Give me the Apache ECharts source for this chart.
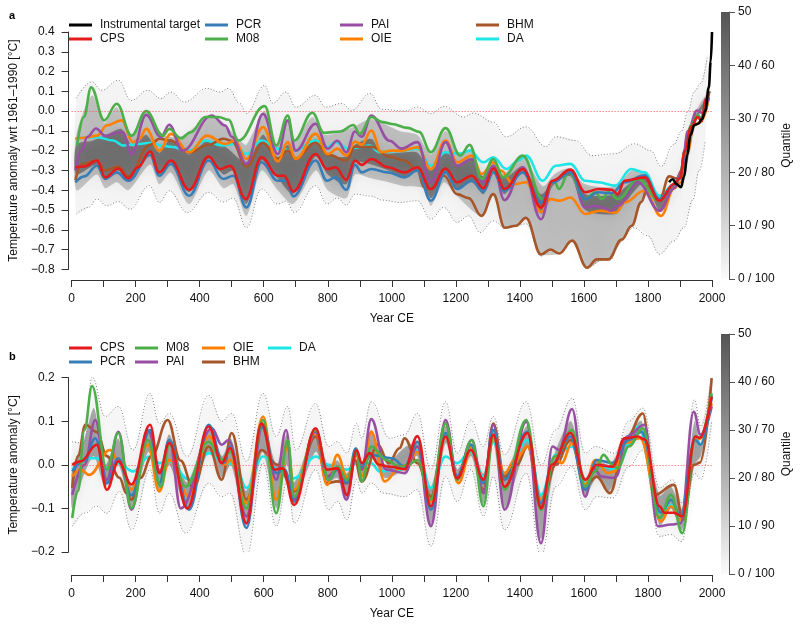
<!DOCTYPE html>
<html>
<head>
<meta charset="utf-8">
<script src="https://cdn.jsdelivr.net/npm/echarts@6/dist/echarts.min.js"></script>
<style>html,body{margin:0;padding:0;background:#fff}#c{width:800px;height:626px}</style>
</head>
<body>
<div id="c"></div>
<script>
// ---------------- Panel a data ([year, anomaly °C]) ----------------
var A_INST = [[1866,-0.36],[1877,-0.345],[1890,-0.37],[1903,-0.385],[1913,-0.33],[1923,-0.22],[1933,-0.12],[1945,-0.07],[1957,-0.064],[1969,-0.04],[1979,0.0],[1990,0.12],[1996,0.25],[2000,0.40]];
var A_CPS = [[12,-0.284],[40,-0.28],[79,-0.25],[105,-0.335],[146,-0.29],[177,-0.34],[207,-0.284],[245,-0.205],[274,-0.31],[310,-0.25],[367,-0.398],[428,-0.23],[464,-0.293],[495,-0.276],[544,-0.445],[593,-0.234],[644,-0.327],[664,-0.327],[692,-0.406],[762,-0.217],[798,-0.293],[824,-0.284],[858,-0.347],[885,-0.25],[906,-0.272],[936,-0.242],[988,-0.284],[1040,-0.31],[1080,-0.284],[1122,-0.394],[1168,-0.29],[1204,-0.36],[1250,-0.327],[1286,-0.39],[1317,-0.29],[1352,-0.394],[1409,-0.293],[1466,-0.487],[1502,-0.352],[1558,-0.296],[1604,-0.41],[1645,-0.394],[1687,-0.398],[1705,-0.42],[1727,-0.352],[1789,-0.335],[1836,-0.453],[1882,-0.369],[1900,-0.34],[1915,-0.2],[1935,-0.08],[1955,-0.03],[1968,-0.05],[1980,0.06],[1992,0.1]];
var A_PCR = [[12,-0.36],[40,-0.33],[79,-0.276],[105,-0.343],[141,-0.31],[177,-0.352],[245,-0.222],[274,-0.327],[310,-0.267],[367,-0.428],[428,-0.25],[474,-0.343],[505,-0.327],[546,-0.487],[593,-0.259],[644,-0.352],[670,-0.352],[692,-0.431],[762,-0.25],[798,-0.352],[824,-0.335],[858,-0.398],[885,-0.272],[906,-0.31],[936,-0.293],[988,-0.31],[1040,-0.335],[1080,-0.3],[1122,-0.453],[1168,-0.31],[1204,-0.394],[1250,-0.352],[1286,-0.408],[1317,-0.31],[1352,-0.403],[1409,-0.31],[1466,-0.462],[1502,-0.36],[1558,-0.31],[1604,-0.445],[1645,-0.41],[1687,-0.415],[1727,-0.36],[1789,-0.325],[1836,-0.445],[1882,-0.37],[1900,-0.34],[1915,-0.21],[1935,-0.08],[1955,-0.03],[1968,-0.045],[1980,0.06],[1992,0.1]];
var A_M08 = [[17,-0.174],[38,-0.03],[61,0.12],[102,-0.047],[141,0.037],[187,-0.124],[233,0.0],[285,-0.124],[305,-0.09],[341,-0.137],[372,-0.107],[418,-0.03],[459,-0.03],[490,-0.044],[521,-0.149],[603,0.025],[639,-0.174],[675,-0.022],[695,-0.149],[752,-0.008],[788,-0.11],[839,-0.103],[880,-0.07],[900,-0.115],[936,-0.03],[972,-0.056],[1000,-0.065],[1050,-0.085],[1085,-0.105],[1122,-0.208],[1168,-0.086],[1214,-0.225],[1243,-0.171],[1281,-0.343],[1317,-0.242],[1348,-0.335],[1409,-0.225],[1471,-0.445],[1507,-0.352],[1522,-0.394],[1553,-0.31],[1604,-0.445],[1635,-0.41],[1656,-0.445],[1676,-0.41],[1707,-0.445],[1769,-0.343],[1836,-0.453],[1882,-0.37],[1900,-0.34],[1915,-0.2],[1935,-0.07],[1955,-0.02],[1968,-0.04],[1980,0.06],[1992,0.1]];
var A_PAI = [[12,-0.3],[30,-0.2],[50,-0.13],[76,-0.088],[105,-0.125],[141,-0.11],[160,-0.107],[187,-0.217],[233,-0.019],[279,-0.132],[305,-0.069],[346,-0.2],[438,-0.022],[480,-0.073],[500,-0.13],[546,-0.267],[598,-0.014],[644,-0.217],[675,-0.047],[700,-0.2],[762,-0.064],[800,-0.19],[830,-0.15],[858,-0.208],[885,-0.103],[906,-0.13],[936,-0.022],[993,-0.15],[1030,-0.19],[1080,-0.157],[1122,-0.36],[1168,-0.157],[1204,-0.276],[1250,-0.242],[1286,-0.36],[1317,-0.276],[1352,-0.45],[1409,-0.284],[1466,-0.547],[1502,-0.36],[1558,-0.31],[1604,-0.487],[1635,-0.48],[1656,-0.487],[1687,-0.504],[1705,-0.48],[1769,-0.36],[1836,-0.504],[1882,-0.39],[1905,-0.3],[1925,-0.1],[1953,0.003],[1969,-0.008],[1990,0.07]];
var A_OIE = [[12,-0.14],[40,-0.135],[80,-0.124],[110,-0.073],[156,-0.047],[192,-0.157],[212,-0.14],[233,-0.09],[274,-0.2],[310,-0.115],[367,-0.208],[423,-0.124],[480,-0.166],[510,-0.15],[546,-0.242],[598,-0.081],[644,-0.255],[675,-0.157],[700,-0.242],[762,-0.115],[800,-0.217],[830,-0.19],[858,-0.225],[885,-0.154],[906,-0.17],[936,-0.098],[967,-0.208],[1000,-0.2],[1030,-0.2],[1080,-0.183],[1122,-0.293],[1168,-0.149],[1204,-0.259],[1250,-0.225],[1281,-0.318],[1317,-0.259],[1340,-0.3],[1380,-0.369],[1420,-0.36],[1466,-0.51],[1495,-0.445],[1525,-0.453],[1558,-0.437],[1604,-0.52],[1650,-0.504],[1700,-0.513],[1727,-0.462],[1789,-0.403],[1841,-0.53],[1882,-0.39],[1902,-0.36],[1923,-0.21],[1943,-0.073],[1964,-0.056],[1990,0.07]];
var A_DA = [[12,-0.14],[40,-0.135],[80,-0.132],[130,-0.149],[161,-0.174],[210,-0.166],[250,-0.16],[280,-0.174],[310,-0.18],[367,-0.2],[418,-0.149],[469,-0.174],[507,-0.166],[546,-0.217],[593,-0.149],[644,-0.19],[695,-0.2],[762,-0.149],[798,-0.183],[824,-0.157],[866,-0.19],[931,-0.174],[962,-0.208],[1030,-0.2],[1080,-0.19],[1122,-0.276],[1168,-0.208],[1214,-0.215],[1243,-0.2],[1286,-0.259],[1317,-0.233],[1358,-0.293],[1395,-0.25],[1420,-0.225],[1471,-0.352],[1512,-0.276],[1558,-0.267],[1604,-0.352],[1645,-0.36],[1697,-0.377],[1748,-0.293],[1789,-0.31],[1836,-0.43],[1882,-0.37],[1900,-0.34],[1915,-0.2],[1935,-0.08],[1955,-0.03],[1968,-0.04],[1990,0.08]];
var A_BHM = [[12,-0.35],[30,-0.27],[79,-0.25],[105,-0.30],[146,-0.28],[177,-0.33],[245,-0.17],[274,-0.14],[310,-0.15],[367,-0.21],[428,-0.17],[474,-0.14],[500,-0.15],[546,-0.28],[598,-0.16],[644,-0.24],[675,-0.2],[700,-0.24],[762,-0.16],[800,-0.22],[858,-0.25],[885,-0.18],[936,-0.18],[993,-0.23],[1040,-0.25],[1080,-0.3],[1101,-0.386],[1122,-0.394],[1163,-0.327],[1204,-0.42],[1240,-0.44],[1280,-0.53],[1317,-0.42],[1353,-0.59],[1388,-0.58],[1419,-0.54],[1466,-0.725],[1495,-0.70],[1523,-0.72],[1563,-0.655],[1610,-0.792],[1640,-0.75],[1676,-0.75],[1718,-0.65],[1749,-0.58],[1779,-0.46],[1800,-0.38],[1836,-0.45],[1866,-0.33],[1890,-0.34],[1905,-0.3],[1925,-0.12],[1950,-0.02],[1968,-0.04],[1990,0.07]];
// ensemble envelope (dotted) and shaded quantile regions, panel a
var A_UPPER = [[15,0.065],[63,0.148],[94,0.105],[146,0.156],[186,0.054],[238,0.105],[279,0.064],[310,0.096],[352,0.046],[423,0.115],[464,0.096],[490,0.115],[525,0.039],[546,-0.012],[603,0.13],[628,0.04],[670,0.096],[700,0.02],[762,0.08],[793,0.02],[844,0.039],[875,0.004],[932,0.09],[968,0.009],[1040,0.0],[1081,0.02],[1122,-0.013],[1163,0.024],[1225,-0.03],[1255,-0.01],[1317,-0.056],[1357,-0.13],[1419,-0.08],[1481,-0.18],[1512,-0.13],[1574,-0.149],[1625,-0.225],[1696,-0.216],[1758,-0.165],[1809,-0.2],[1841,-0.28],[1880,-0.17],[1905,-0.1],[1925,0.0],[1945,0.1],[1965,0.14],[1985,0.27]];
var A_LOWER = [[15,-0.52],[53,-0.487],[79,-0.445],[110,-0.479],[146,-0.458],[182,-0.496],[243,-0.377],[274,-0.462],[305,-0.403],[361,-0.513],[428,-0.411],[474,-0.46],[505,-0.44],[546,-0.589],[593,-0.394],[644,-0.47],[670,-0.455],[695,-0.513],[762,-0.377],[798,-0.47],[830,-0.44],[858,-0.475],[885,-0.42],[936,-0.43],[970,-0.45],[1024,-0.462],[1080,-0.453],[1122,-0.547],[1162,-0.487],[1204,-0.563],[1240,-0.53],[1276,-0.614],[1317,-0.555],[1352,-0.589],[1385,-0.58],[1420,-0.57],[1466,-0.733],[1500,-0.70],[1523,-0.72],[1563,-0.66],[1609,-0.795],[1656,-0.755],[1680,-0.755],[1718,-0.648],[1755,-0.59],[1800,-0.63],[1836,-0.724],[1881,-0.657],[1912,-0.59],[1940,-0.45],[1960,-0.3],[1979,-0.149]];
var A_MID_HI = [[15,-0.12],[64,0.08],[102,-0.06],[141,0.02],[187,-0.12],[233,-0.01],[285,-0.12],[341,-0.13],[418,-0.04],[459,-0.04],[521,-0.14],[546,-0.17],[603,0.0],[639,-0.17],[675,-0.04],[695,-0.15],[752,-0.03],[788,-0.12],[880,-0.08],[936,-0.04],[1024,-0.1],[1080,-0.12],[1122,-0.22],[1168,-0.1],[1214,-0.22],[1250,-0.19],[1281,-0.33],[1317,-0.24],[1348,-0.32],[1409,-0.23],[1471,-0.38],[1507,-0.32],[1553,-0.29],[1604,-0.37],[1700,-0.38],[1748,-0.3],[1790,-0.32],[1836,-0.42],[1880,-0.36],[1920,-0.22],[1950,0.0],[1990,0.1]];
var A_MID_LO = [[15,-0.4],[79,-0.32],[105,-0.39],[141,-0.36],[177,-0.40],[245,-0.27],[274,-0.37],[310,-0.31],[367,-0.47],[428,-0.30],[474,-0.39],[505,-0.37],[546,-0.53],[593,-0.30],[644,-0.40],[692,-0.47],[762,-0.30],[800,-0.40],[858,-0.44],[885,-0.32],[936,-0.34],[990,-0.36],[1040,-0.38],[1101,-0.39],[1122,-0.48],[1163,-0.36],[1204,-0.43],[1280,-0.53],[1317,-0.43],[1353,-0.59],[1388,-0.58],[1419,-0.54],[1466,-0.72],[1523,-0.72],[1563,-0.65],[1610,-0.79],[1656,-0.75],[1676,-0.75],[1718,-0.66],[1749,-0.58],[1779,-0.47],[1800,-0.42],[1836,-0.5],[1880,-0.40],[1920,-0.28],[1950,-0.06],[1990,0.06]];
var A_CORE_HI = [[15,-0.17],[64,-0.15],[110,-0.12],[156,-0.09],[192,-0.18],[233,-0.12],[274,-0.21],[310,-0.14],[367,-0.22],[423,-0.15],[480,-0.18],[546,-0.26],[598,-0.12],[644,-0.25],[675,-0.17],[700,-0.24],[762,-0.14],[800,-0.22],[858,-0.23],[885,-0.17],[936,-0.14],[967,-0.21],[1024,-0.21],[1080,-0.21],[1122,-0.30],[1168,-0.2],[1204,-0.27],[1250,-0.24],[1286,-0.33],[1317,-0.27],[1352,-0.34],[1409,-0.28],[1466,-0.42],[1502,-0.36],[1558,-0.31],[1604,-0.42],[1700,-0.42],[1748,-0.36],[1790,-0.34],[1836,-0.44],[1880,-0.37],[1920,-0.24],[1950,-0.02],[1990,0.08]];
var A_CORE_LO = [[15,-0.32],[79,-0.27],[105,-0.34],[146,-0.30],[177,-0.35],[245,-0.21],[274,-0.32],[310,-0.26],[367,-0.41],[428,-0.24],[474,-0.32],[505,-0.30],[546,-0.47],[593,-0.25],[644,-0.34],[692,-0.42],[762,-0.23],[800,-0.32],[858,-0.37],[885,-0.26],[936,-0.27],[990,-0.30],[1040,-0.33],[1080,-0.30],[1122,-0.44],[1168,-0.31],[1204,-0.39],[1250,-0.36],[1286,-0.42],[1317,-0.31],[1352,-0.42],[1409,-0.31],[1466,-0.52],[1502,-0.38],[1558,-0.33],[1604,-0.5],[1700,-0.52],[1730,-0.46],[1790,-0.36],[1836,-0.5],[1880,-0.39],[1920,-0.27],[1950,-0.04],[1990,0.06]];

// ---------------- Panel b data ----------------
var B_CPS = [[2,0.0],[28,0.008],[79,0.046],[110,-0.057],[146,0.008],[187,-0.045],[245,0.092],[274,-0.019],[305,0.05],[361,-0.1],[428,0.088],[469,0.004],[495,0.038],[546,-0.134],[593,0.095],[634,-0.011],[659,-0.008],[695,-0.092],[762,0.084],[798,-0.011],[830,-0.008],[860,-0.069],[890,0.034],[906,0.004],[931,0.027],[960,0.0],[1000,-0.005],[1040,-0.01],[1080,0.066],[1122,-0.095],[1168,0.065],[1204,-0.031],[1247,0.034],[1286,-0.034],[1317,0.069],[1352,-0.05],[1424,0.073],[1466,-0.1],[1500,0.0],[1558,0.073],[1604,-0.034],[1640,0.0],[1690,-0.004],[1727,0.061],[1769,0.065],[1790,0.058],[1836,-0.095],[1851,-0.11],[1880,-0.11],[1907,-0.118],[1948,0.065],[1962,0.062],[1999,0.157]];
var B_PCR = [[2,-0.015],[40,0.01],[74,0.061],[110,-0.042],[146,0.015],[187,-0.07],[245,0.08],[274,-0.042],[305,0.057],[367,-0.103],[428,0.092],[474,0.004],[495,0.042],[546,-0.145],[593,0.088],[640,-0.019],[665,-0.01],[695,-0.084],[762,0.08],[803,-0.034],[830,-0.01],[860,-0.042],[888,0.038],[906,-0.004],[936,0.023],[1000,0.015],[1040,-0.004],[1080,0.053],[1122,-0.103],[1168,0.073],[1204,-0.027],[1247,0.046],[1286,-0.042],[1317,0.08],[1352,-0.034],[1424,0.076],[1466,-0.088],[1500,0.0],[1558,0.065],[1604,-0.057],[1640,0.011],[1690,0.004],[1740,0.057],[1779,0.076],[1841,-0.11],[1872,-0.08],[1902,-0.118],[1948,0.057],[1964,0.046],[1999,0.157]];
var B_M08 = [[2,-0.122],[20,-0.06],[40,0.08],[64,0.181],[110,-0.011],[146,0.073],[187,-0.1],[238,0.057],[279,-0.05],[305,0.046],[356,-0.05],[428,0.053],[469,0.011],[495,0.03],[546,-0.1],[598,0.103],[639,-0.111],[675,0.057],[695,-0.073],[762,0.08],[803,-0.034],[830,-0.004],[860,-0.034],[890,0.03],[906,-0.038],[936,0.042],[983,0.011],[1024,-0.004],[1050,0.0],[1080,0.011],[1122,-0.08],[1168,0.095],[1204,-0.034],[1250,0.057],[1286,-0.095],[1317,0.065],[1352,-0.057],[1420,0.103],[1466,-0.103],[1510,0.019],[1563,0.08],[1604,-0.05],[1635,-0.015],[1661,0.023],[1690,0.0],[1705,-0.008],[1740,0.042],[1784,0.084],[1836,-0.122],[1872,-0.069],[1907,-0.157],[1948,0.065],[1962,0.062],[1999,0.164]];
var B_PAI = [[2,-0.069],[40,0.0],[74,0.103],[110,-0.034],[146,0.076],[187,-0.103],[238,0.08],[279,-0.019],[305,0.057],[341,-0.1],[438,0.084],[469,0.046],[490,0.057],[546,-0.118],[598,0.092],[639,-0.034],[670,0.08],[695,-0.08],[762,0.076],[798,-0.027],[830,-0.011],[858,-0.08],[890,0.027],[906,-0.011],[936,0.105],[983,-0.011],[1040,-0.019],[1080,0.042],[1122,-0.141],[1168,0.103],[1204,-0.027],[1250,0.057],[1286,-0.065],[1317,0.092],[1352,-0.103],[1420,0.099],[1466,-0.18],[1502,0.042],[1522,0.034],[1563,0.128],[1604,-0.073],[1630,-0.008],[1656,-0.027],[1690,-0.03],[1700,-0.027],[1735,0.065],[1789,0.092],[1831,-0.141],[1872,-0.137],[1902,-0.134],[1943,0.122],[1964,0.069],[1999,0.134]];
var B_OIE = [[2,-0.027],[28,-0.011],[55,-0.023],[120,0.034],[146,0.01],[187,-0.057],[238,0.046],[274,-0.061],[305,0.011],[367,-0.073],[428,0.065],[480,0.0],[495,0.011],[546,-0.088],[598,0.111],[639,-0.08],[675,0.042],[695,-0.057],[762,0.073],[798,-0.046],[830,0.023],[860,-0.027],[890,0.023],[906,-0.027],[936,0.076],[978,-0.038],[1024,-0.008],[1040,-0.01],[1080,0.03],[1122,-0.084],[1168,0.065],[1208,-0.042],[1250,0.042],[1286,-0.065],[1317,0.061],[1352,-0.019],[1385,0.011],[1424,0.042],[1466,-0.08],[1510,0.019],[1530,0.004],[1563,0.05],[1604,-0.046],[1635,0.011],[1675,-0.019],[1695,-0.015],[1730,0.05],[1775,0.061],[1841,-0.13],[1872,-0.095],[1900,-0.126],[1948,0.057],[1962,0.06],[1999,0.141]];
var B_DA = [[2,-0.011],[48,0.015],[79,0.015],[110,-0.008],[146,0.004],[192,-0.015],[243,0.019],[274,0.004],[305,0.008],[367,-0.034],[428,0.027],[480,0.004],[510,0.0],[546,-0.053],[598,0.019],[644,-0.011],[695,-0.031],[762,0.019],[803,0.0],[860,-0.011],[890,0.004],[936,0.004],[962,-0.015],[1024,-0.011],[1040,-0.004],[1080,0.034],[1122,-0.053],[1168,0.019],[1204,0.004],[1247,0.031],[1286,-0.027],[1317,0.053],[1352,-0.027],[1424,0.057],[1466,-0.069],[1512,0.023],[1563,0.042],[1604,-0.042],[1645,0.0],[1697,-0.011],[1769,0.088],[1836,-0.11],[1872,-0.092],[1902,-0.118],[1948,0.065],[1964,0.046],[1999,0.16]];
var B_BHM = [[2,-0.053],[20,0.02],[43,0.092],[79,0.075],[110,0.02],[150,-0.03],[171,-0.065],[187,-0.08],[215,-0.03],[250,0.02],[300,0.103],[340,0.01],[380,-0.053],[428,0.042],[469,-0.034],[500,0.073],[546,-0.08],[593,0.034],[644,0.0],[695,-0.061],[762,0.065],[798,-0.042],[830,-0.038],[860,-0.042],[885,0.011],[906,-0.038],[957,0.046],[990,0.004],[1024,0.038],[1040,0.061],[1080,0.004],[1122,-0.073],[1168,0.095],[1204,-0.027],[1247,0.046],[1286,-0.057],[1317,0.095],[1352,-0.027],[1390,0.0],[1424,0.042],[1466,-0.095],[1512,0.0],[1558,0.057],[1604,-0.05],[1640,-0.027],[1681,-0.065],[1730,0.057],[1784,0.118],[1820,-0.069],[1881,-0.046],[1910,-0.126],[1943,0.0],[1962,0.005],[1999,0.199]];
var B_UPPER = [[2,0.053],[40,0.05],[64,0.202],[105,0.111],[146,0.134],[192,0.034],[245,0.164],[274,0.095],[305,0.118],[361,0.019],[428,0.16],[469,0.1],[500,0.118],[546,0.008],[598,0.164],[639,0.065],[675,0.134],[700,0.034],[762,0.141],[803,0.042],[830,0.053],[860,0.027],[890,0.095],[906,0.061],[936,0.145],[993,0.061],[1040,0.069],[1080,0.118],[1122,-0.011],[1168,0.145],[1204,0.027],[1247,0.103],[1286,0.042],[1317,0.111],[1352,0.023],[1420,0.145],[1466,0.0],[1512,0.08],[1563,0.153],[1604,0.027],[1635,0.042],[1697,0.027],[1740,0.1],[1784,0.13],[1836,-0.053],[1877,-0.034],[1907,-0.088],[1945,0.149],[1965,0.088],[1999,0.206]];
var B_LOWER = [[2,-0.141],[40,-0.111],[79,-0.095],[110,-0.111],[150,-0.061],[187,-0.149],[245,-0.011],[274,-0.111],[305,-0.065],[356,-0.157],[428,-0.042],[469,-0.073],[495,-0.065],[546,-0.21],[598,0.004],[639,-0.141],[675,-0.034],[695,-0.134],[762,-0.011],[803,-0.103],[830,-0.084],[860,-0.126],[890,-0.034],[906,-0.065],[936,-0.042],[975,-0.065],[1040,-0.073],[1080,-0.057],[1122,-0.187],[1168,-0.027],[1204,-0.084],[1247,-0.011],[1286,-0.118],[1317,-0.027],[1352,-0.149],[1420,-0.019],[1466,-0.21],[1512,-0.05],[1563,-0.004],[1604,-0.103],[1640,-0.073],[1690,-0.076],[1740,-0.004],[1784,0.034],[1836,-0.164],[1872,-0.16],[1905,-0.176],[1945,-0.019],[1965,-0.034],[1999,0.1]];
var B_CORE_HI = [[2,-0.01],[40,0.06],[70,0.13],[105,0.0],[146,0.06],[187,-0.05],[240,0.08],[275,-0.01],[305,0.07],[360,-0.04],[428,0.08],[470,0.02],[498,0.06],[546,-0.06],[596,0.1],[640,0.0],[672,0.07],[695,-0.04],[762,0.08],[800,0.0],[830,0.01],[860,-0.02],[890,0.03],[906,0.0],[936,0.08],[978,0.0],[1040,0.04],[1080,0.05],[1122,-0.05],[1168,0.09],[1205,-0.01],[1248,0.05],[1286,-0.02],[1317,0.08],[1352,-0.02],[1424,0.09],[1466,-0.07],[1510,0.03],[1560,0.1],[1604,-0.03],[1640,0.01],[1680,0.0],[1730,0.06],[1780,0.1],[1836,-0.07],[1872,-0.05],[1907,-0.1],[1945,0.1],[1965,0.05],[1999,0.17]];
var B_CORE_LO = [[2,-0.1],[40,-0.02],[70,0.02],[105,-0.05],[146,0.0],[187,-0.1],[240,0.03],[275,-0.06],[305,0.0],[360,-0.1],[428,0.03],[470,-0.03],[498,0.0],[546,-0.14],[596,0.03],[640,-0.1],[672,0.0],[695,-0.09],[762,0.03],[800,-0.04],[830,-0.03],[860,-0.08],[890,0.02],[906,-0.03],[936,0.02],[978,-0.03],[1040,-0.01],[1080,0.02],[1122,-0.14],[1168,0.05],[1205,-0.04],[1248,0.02],[1286,-0.09],[1317,0.05],[1352,-0.1],[1424,0.04],[1466,-0.17],[1510,0.0],[1560,0.05],[1604,-0.07],[1640,-0.03],[1680,-0.06],[1730,0.03],[1780,0.07],[1836,-0.14],[1872,-0.1],[1907,-0.15],[1945,0.0],[1965,0.02],[1999,0.14]];

// colour bar (quantile) tick labels
var CBAR_VALUE = [50];
var CBAR_LABELS = ['0 / 100', '10 / 90', '20 / 80', '30 / 70', '40 / 60', '50'];
// reference level (red dotted line)
var ZERO_LEVEL = 0;

var COLORS = {
  'Instrumental target': '#000000', CPS: '#e41a1c', PCR: '#377eb8', M08: '#4daf4a',
  PAI: '#984ea3', OIE: '#ff7f00', BHM: '#a65628', DA: '#1ee6e6'
};
var FONT = "'Liberation Sans', Arial, Helvetica, sans-serif";

function fmtNum(v) {
  var s = Math.abs(v).toFixed(1);
  return (v < -1e-9 ? '\u2212' : '') + s;
}
function lineS(name, data, gi, z) {
  return {
    type: 'line', name: name, data: data, xAxisIndex: gi, yAxisIndex: gi,
    smooth: 0.4, smoothMonotone: 'x', showSymbol: false, symbol: 'none', silent: true,
    color: COLORS[name], itemStyle: { color: COLORS[name] },
    lineStyle: { color: COLORS[name], width: 2.6 }, z: z || 4, clip: true
  };
}
function dotS(data, gi, withZero) {
  var s = {
    type: 'line', data: data, xAxisIndex: gi, yAxisIndex: gi, smooth: 0.4, smoothMonotone: 'x',
    showSymbol: false, symbol: 'none', silent: true, color: '#808080',
    lineStyle: { color: '#808080', width: 1, type: [1, 2] }, z: 3
  };
  if (withZero) {
    s.markLine = {
      silent: true, symbol: ['none', 'none'], label: { show: false },
      lineStyle: { color: '#ff4040', width: 1.2, type: [1, 2], opacity: 0.9 },
      emphasis: { disabled: true },
      data: [{ yAxis: ZERO_LEVEL, lineStyle: { color: '#ff4040' } }]
    };
  }
  return s;
}
function band(hi, lo, gi, fill, blur, sc, z) {
  return {
    type: 'custom', xAxisIndex: gi, yAxisIndex: gi, silent: true, clip: true, z: z,
    data: [[hi[0][0], hi[0][1]]],
    renderItem: function (params, api) {
      var pts = [];
      for (var i = 0; i < hi.length; i++) pts.push(api.coord(hi[i]));
      for (var j = lo.length - 1; j >= 0; j--) pts.push(api.coord(lo[j]));
      return { type: 'polygon', shape: { points: pts, smooth: 0.25 },
        style: { fill: fill, shadowBlur: blur, shadowColor: sc } };
    }
  };
}
function leg(names, left, top) {
  return {
    data: names, left: left, top: top, orient: 'vertical', icon: 'rect',
    itemWidth: 23, itemHeight: 3, itemGap: 2, padding: 0, selectedMode: false,
    textStyle: { fontFamily: FONT, fontSize: 12, color: '#111', padding: [0, 0, 0, 3] }
  };
}
function xAx(gi, offset) {
  return {
    gridIndex: gi, type: 'value', min: 0, max: 2000, interval: 100, offset: offset,
    position: 'bottom',
    axisLine: { show: true, onZero: false, lineStyle: { color: '#333', width: 1 } },
    axisTick: { show: true, length: 7, lineStyle: { color: '#333' } },
    axisLabel: { margin: 13, fontFamily: FONT, fontSize: 12, color: '#111',
      formatter: function (v) { return v % 200 === 0 ? String(v) : ''; } },
    splitLine: { show: false },
    name: 'Year CE', nameLocation: 'middle', nameGap: 33,
    nameTextStyle: { fontFamily: FONT, fontSize: 12, color: '#111' }
  };
}
function yAx(gi, min, max, name) {
  return {
    gridIndex: gi, type: 'value', min: min, max: max, interval: 0.1, offset: 3,
    position: 'left',
    axisLine: { show: true, onZero: false, lineStyle: { color: '#333', width: 1 } },
    axisTick: { show: true, length: 7, lineStyle: { color: '#333' } },
    axisLabel: { margin: 14, fontFamily: FONT, fontSize: 12, color: '#111', formatter: fmtNum },
    splitLine: { show: false },
    name: name, nameLocation: 'middle', nameRotate: 90, nameGap: 39,
    nameTextStyle: { fontFamily: FONT, fontSize: 12, color: '#111' }
  };
}
function cbY(gi) {
  return {
    gridIndex: gi, type: 'value', position: 'right', min: 0, max: 50, interval: 10,
    axisLine: { show: true, onZero: false, lineStyle: { color: '#555' } },
    axisTick: { show: true, length: 6, lineStyle: { color: '#555' } },
    axisLabel: { margin: 9, fontFamily: FONT, fontSize: 12, color: '#111',
      formatter: function (v) { return CBAR_LABELS[Math.round(v / 10)]; } },
    splitLine: { show: false },
    name: 'Quantile', nameLocation: 'middle', nameRotate: 90, nameGap: 52,
    nameTextStyle: { fontFamily: FONT, fontSize: 12, color: '#111' }
  };
}
function cbBar(gi) {
  return {
    type: 'bar', xAxisIndex: gi, yAxisIndex: gi, data: CBAR_VALUE, barWidth: '100%', silent: true,
    itemStyle: { color: new echarts.graphic.LinearGradient(0, 0, 0, 1, [
      { offset: 0, color: '#555555' }, { offset: 0.35, color: '#8a8a8a' },
      { offset: 0.7, color: '#c4c4c4' }, { offset: 1, color: '#fbfbfb' }]) }
  };
}

var series = [
  // panel a shading
  band(A_UPPER, A_LOWER, 0, 'rgba(0,0,0,0.045)', 10, 'rgba(0,0,0,0.05)', 1),
  band(A_MID_HI, A_MID_LO, 0, 'rgba(0,0,0,0.2)', 14, 'rgba(0,0,0,0.2)', 1),
  band(A_CORE_HI, A_CORE_LO, 0, 'rgba(0,0,0,0.34)', 12, 'rgba(0,0,0,0.3)', 1),
  dotS(A_UPPER, 0, true), dotS(A_LOWER, 0, false),
  lineS('DA', A_DA, 0), lineS('BHM', A_BHM, 0), lineS('OIE', A_OIE, 0), lineS('PAI', A_PAI, 0),
  lineS('M08', A_M08, 0), lineS('PCR', A_PCR, 0), lineS('CPS', A_CPS, 0),
  lineS('Instrumental target', A_INST, 0, 5),
  // panel b shading
  band(B_UPPER, B_LOWER, 1, 'rgba(0,0,0,0.035)', 10, 'rgba(0,0,0,0.05)', 1),
  band(B_CORE_HI, B_CORE_LO, 1, 'rgba(0,0,0,0.3)', 10, 'rgba(0,0,0,0.3)', 1),
  dotS(B_UPPER, 1, true), dotS(B_LOWER, 1, false),
  lineS('DA', B_DA, 1), lineS('BHM', B_BHM, 1), lineS('OIE', B_OIE, 1), lineS('PAI', B_PAI, 1),
  lineS('PCR', B_PCR, 1), lineS('M08', B_M08, 1), lineS('CPS', B_CPS, 1),
  cbBar(2), cbBar(3)
];

var option = {
  animation: false,
  backgroundColor: '#ffffff',
  textStyle: { fontFamily: FONT },
  grid: [
    { left: 63, width: 649, top: 32, height: 237.3 },
    { left: 63, width: 649, top: 377.7, height: 174.3 },
    { left: 721, width: 8, top: 12, height: 267 },
    { left: 721, width: 8, top: 334, height: 240 }
  ],
  xAxis: [
    xAx(0, 10.7), xAx(1, 23),
    { gridIndex: 2, type: 'category', data: ['q'], show: false },
    { gridIndex: 3, type: 'category', data: ['q'], show: false }
  ],
  yAxis: [
    yAx(0, -0.8, 0.4, 'Temperature anomaly wrt 1961\u20131990 [\u00b0C]'),
    yAx(1, -0.2, 0.2, 'Temperature anomaly [\u00b0C]'),
    cbY(2), cbY(3)
  ],
  legend: [
    leg(['Instrumental target', 'CPS'], 69, 19),
    leg(['PCR', 'M08'], 205, 19),
    leg(['PAI', 'OIE'], 340, 19),
    leg(['BHM', 'DA'], 476, 19),
    leg(['CPS', 'PCR'], 69, 342),
    leg(['M08', 'PAI'], 135, 342),
    leg(['OIE', 'BHM'], 202, 342),
    leg(['DA'], 268, 342)
  ],
  graphic: [
    { type: 'text', left: 9, top: 10, style: { text: 'a', font: 'bold 11px ' + FONT, fill: '#000' } },
    { type: 'text', left: 9, top: 351, style: { text: 'b', font: 'bold 11px ' + FONT, fill: '#000' } }
  ],
  series: series
};
var chart = echarts.init(document.getElementById('c'), null, { renderer: 'canvas' });
chart.setOption(option);
</script>
</body>
</html>
